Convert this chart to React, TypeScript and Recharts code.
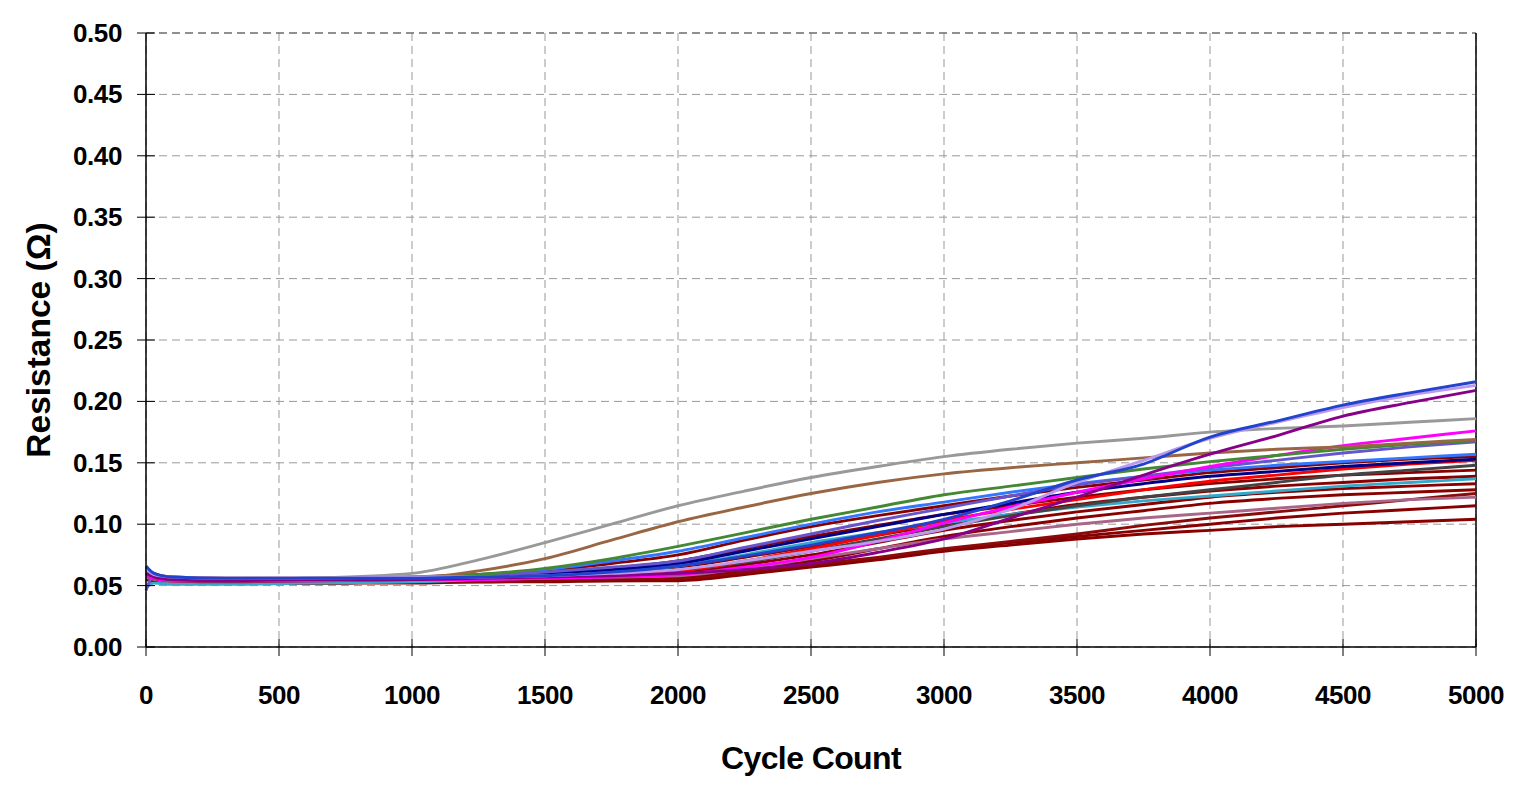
import React from "react";
import {
  CartesianGrid,
  Line,
  LineChart,
  ReferenceLine,
  XAxis,
  YAxis,
} from "recharts";

// cycle counts at which the resistance was sampled
const cycles = [
  0, 30, 100, 300, 600, 1000, 1250, 1500, 1750, 2000, 2250, 2500, 2750, 3000,
  3250, 3500, 3750, 4000, 4250, 4500, 4750, 5000,
];

const xTicks = [0, 500, 1000, 1500, 2000, 2500, 3000, 3500, 4000, 4500, 5000];
const yTicks = [0, 0.05, 0.1, 0.15, 0.2, 0.25, 0.3, 0.35, 0.4, 0.45, 0.5];

const dr8 = [0.055, 0.053, 0.052, 0.052, 0.052, 0.052, 0.053, 0.053, 0.054, 0.054, 0.059, 0.065, 0.071, 0.078, 0.083, 0.088, 0.092, 0.095, 0.098, 0.1, 0.102, 0.104];
const dr7 = [0.056, 0.054, 0.053, 0.052, 0.052, 0.053, 0.053, 0.054, 0.054, 0.055, 0.06, 0.066, 0.072, 0.079, 0.085, 0.09, 0.095, 0.1, 0.105, 0.109, 0.112, 0.115];
const dr6 = [0.056, 0.054, 0.053, 0.052, 0.052, 0.053, 0.053, 0.054, 0.055, 0.056, 0.061, 0.067, 0.073, 0.08, 0.086, 0.092, 0.099, 0.105, 0.11, 0.115, 0.12, 0.125];
const dr5 = [0.057, 0.055, 0.054, 0.053, 0.053, 0.054, 0.054, 0.055, 0.056, 0.057, 0.063, 0.07, 0.08, 0.09, 0.098, 0.105, 0.111, 0.117, 0.121, 0.124, 0.126, 0.128];
const dr4 = [0.058, 0.056, 0.054, 0.053, 0.054, 0.054, 0.055, 0.056, 0.058, 0.06, 0.067, 0.075, 0.085, 0.095, 0.103, 0.11, 0.116, 0.122, 0.126, 0.129, 0.131, 0.133];
const dr3 = [0.06, 0.057, 0.055, 0.054, 0.055, 0.055, 0.057, 0.059, 0.062, 0.065, 0.073, 0.082, 0.091, 0.1, 0.108, 0.116, 0.122, 0.127, 0.131, 0.134, 0.137, 0.139];
const dr2 = [0.062, 0.058, 0.056, 0.055, 0.055, 0.056, 0.058, 0.06, 0.064, 0.07, 0.08, 0.09, 0.099, 0.108, 0.115, 0.122, 0.128, 0.133, 0.137, 0.14, 0.142, 0.144];
const dr1 = [0.065, 0.06, 0.057, 0.056, 0.056, 0.057, 0.059, 0.062, 0.068, 0.075, 0.087, 0.098, 0.107, 0.115, 0.123, 0.13, 0.136, 0.142, 0.146, 0.15, 0.153, 0.155];
const mauve = [0.057, 0.055, 0.053, 0.053, 0.053, 0.054, 0.055, 0.056, 0.057, 0.058, 0.064, 0.072, 0.08, 0.088, 0.094, 0.1, 0.105, 0.109, 0.113, 0.117, 0.12, 0.122];
const teal = [0.048, 0.052, 0.051, 0.051, 0.052, 0.053, 0.055, 0.058, 0.061, 0.066, 0.075, 0.085, 0.093, 0.101, 0.108, 0.114, 0.119, 0.123, 0.127, 0.131, 0.134, 0.137];
const darkGray = [0.058, 0.056, 0.054, 0.053, 0.054, 0.055, 0.056, 0.058, 0.06, 0.062, 0.069, 0.078, 0.088, 0.098, 0.107, 0.115, 0.122, 0.128, 0.134, 0.14, 0.144, 0.148];
const red = [0.059, 0.056, 0.054, 0.054, 0.054, 0.055, 0.056, 0.058, 0.06, 0.062, 0.07, 0.08, 0.091, 0.103, 0.112, 0.12, 0.128, 0.135, 0.14, 0.145, 0.149, 0.152];
const navy = [0.06, 0.057, 0.055, 0.054, 0.055, 0.056, 0.058, 0.06, 0.063, 0.068, 0.078, 0.088, 0.098, 0.108, 0.117, 0.126, 0.133, 0.139, 0.143, 0.147, 0.15, 0.153];
const lightBlue = [0.063, 0.058, 0.056, 0.055, 0.056, 0.057, 0.059, 0.063, 0.07, 0.078, 0.089, 0.1, 0.11, 0.118, 0.126, 0.133, 0.139, 0.144, 0.148, 0.151, 0.154, 0.157];
const slate = [0.046, 0.058, 0.056, 0.055, 0.055, 0.056, 0.058, 0.061, 0.065, 0.07, 0.081, 0.092, 0.103, 0.113, 0.123, 0.132, 0.139, 0.146, 0.152, 0.158, 0.163, 0.167];
const magenta = [0.058, 0.056, 0.054, 0.054, 0.054, 0.055, 0.055, 0.056, 0.057, 0.059, 0.065, 0.073, 0.086, 0.101, 0.114, 0.126, 0.137, 0.147, 0.156, 0.164, 0.17, 0.176];
const green = [0.06, 0.057, 0.055, 0.054, 0.055, 0.056, 0.059, 0.064, 0.072, 0.082, 0.093, 0.104, 0.114, 0.124, 0.131, 0.138, 0.145, 0.151, 0.156, 0.161, 0.165, 0.168];
const brown = [0.063, 0.058, 0.056, 0.055, 0.055, 0.056, 0.062, 0.072, 0.087, 0.102, 0.114, 0.125, 0.134, 0.141, 0.146, 0.15, 0.154, 0.158, 0.161, 0.163, 0.166, 0.169];
const gray = [0.062, 0.058, 0.056, 0.055, 0.056, 0.06, 0.071, 0.085, 0.1, 0.115, 0.127, 0.138, 0.147, 0.155, 0.161, 0.166, 0.17, 0.175, 0.178, 0.18, 0.183, 0.186];
const purple = [0.06, 0.057, 0.055, 0.054, 0.055, 0.055, 0.056, 0.057, 0.058, 0.06, 0.063, 0.068, 0.077, 0.088, 0.105, 0.122, 0.14, 0.157, 0.172, 0.188, 0.199, 0.209];
const lavender = [0.064, 0.059, 0.057, 0.056, 0.056, 0.057, 0.057, 0.058, 0.06, 0.063, 0.07, 0.078, 0.086, 0.096, 0.112, 0.134, 0.152, 0.17, 0.183, 0.195, 0.205, 0.213];
const blue = [0.066, 0.06, 0.057, 0.056, 0.056, 0.056, 0.057, 0.058, 0.061, 0.066, 0.074, 0.083, 0.093, 0.104, 0.119, 0.136, 0.149, 0.171, 0.184, 0.197, 0.207, 0.216];

// drawing order: first ones end up underneath
const series = [
  { key: "dr8", values: dr8, color: "#880000" },
  { key: "dr7", values: dr7, color: "#880000" },
  { key: "dr6", values: dr6, color: "#8b0a0a" },
  { key: "dr5", values: dr5, color: "#880000" },
  { key: "dr4", values: dr4, color: "#8b0000" },
  { key: "dr3", values: dr3, color: "#880000" },
  { key: "dr2", values: dr2, color: "#880000" },
  { key: "dr1", values: dr1, color: "#880000" },
  { key: "mauve", values: mauve, color: "#aa6688" },
  { key: "teal", values: teal, color: "#33aacc" },
  { key: "darkGray", values: darkGray, color: "#444444" },
  { key: "red", values: red, color: "#ff0000" },
  { key: "navy", values: navy, color: "#000088" },
  { key: "lightBlue", values: lightBlue, color: "#3377ff" },
  { key: "slate", values: slate, color: "#6655cc" },
  { key: "magenta", values: magenta, color: "#ff00ff" },
  { key: "green", values: green, color: "#448833" },
  { key: "brown", values: brown, color: "#996644" },
  { key: "gray", values: gray, color: "#999999" },
  { key: "purple", values: purple, color: "#880088" },
  { key: "lavender", values: lavender, color: "#bb99ee" },
  { key: "blue", values: blue, color: "#2244cc" },
];

const rows = cycles.map((c, i) => {
  const row: Record<string, number> = { cycle: c };
  series.forEach((s) => {
    row[s.key] = s.values[i];
  });
  return row;
});

const FONT = "'Liberation Sans', Arial, Helvetica, sans-serif";

const XTick = ({ x, y, payload }: any) => (
  <g>
    <line x1={x} x2={x} y1={y - 8} y2={y + 9} stroke="#000" strokeWidth={1} />
    <text
      x={x}
      y={y + 57}
      textAnchor="middle"
      fontFamily={FONT}
      fontWeight="bold"
      fontSize={26}
      letterSpacing={-0.4}
      fill="#000"
    >
      {payload.value}
    </text>
  </g>
);

const YTick = ({ x, y, payload }: any) => (
  <g>
    <line x1={x - 9} x2={x + 9} y1={y} y2={y} stroke="#000" strokeWidth={1} />
    <text
      x={x - 24}
      y={y + 9}
      textAnchor="end"
      fontFamily={FONT}
      fontWeight="bold"
      fontSize={26}
      letterSpacing={-0.4}
      fill="#000"
    >
      {payload.value.toFixed(2)}
    </text>
  </g>
);

const App = () => (
  <div style={{ position: "absolute", left: 0, top: 0, width: 1522, height: 785, background: "#fff" }}>
    <LineChart
      width={1522}
      height={785}
      data={rows}
      margin={{ top: 33, right: 46, bottom: 0, left: 66 }}
    >
      <CartesianGrid stroke="#999" strokeDasharray="8 5" />
      <XAxis
        dataKey="cycle"
        type="number"
        domain={[0, 5000]}
        ticks={xTicks}
        interval={0}
        tickLine={false}
        tickSize={0}
        tickMargin={0}
        height={138}
        stroke="#000"
        strokeWidth={1.5}
        tick={<XTick />}
        label={{
          value: "Cycle Count",
          position: "insideBottom",
          offset: 16,
          fontFamily: FONT,
          fontWeight: "bold",
          fontSize: 32,
          letterSpacing: -0.6,
          fill: "#000",
        }}
      />
      <YAxis
        type="number"
        domain={[0, 0.5]}
        ticks={yTicks}
        interval={0}
        tickLine={false}
        tickSize={0}
        tickMargin={0}
        width={80}
        stroke="#000"
        strokeWidth={1.5}
        tick={<YTick />}
        label={{
          value: "Resistance (Ω)",
          angle: -90,
          position: "insideLeft",
          offset: -28,
          fontFamily: FONT,
          fontWeight: "bold",
          fontSize: 33.5,
          fill: "#000",
          style: { textAnchor: "middle" },
        }}
      />
      <ReferenceLine y={0.5} stroke="#555" strokeDasharray="8 5" />
      <ReferenceLine x={5000} stroke="#000" strokeWidth={1.5} />
      {series.map((s) => (
        <Line
          key={s.key}
          dataKey={s.key}
          stroke={s.color}
          strokeWidth={2.9}
          type="monotone"
          dot={false}
          activeDot={false}
          isAnimationActive={false}
        />
      ))}
    </LineChart>
  </div>
);

export default App;
